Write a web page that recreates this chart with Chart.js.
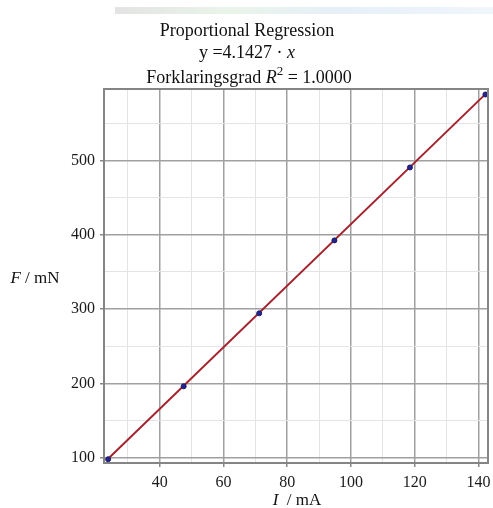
<!DOCTYPE html>
<html>
<head>
<meta charset="utf-8">
<script src="https://cdn.jsdelivr.net/npm/chart.js@4.4.1/dist/chart.umd.min.js"></script>
<style>
  html, body { margin: 0; padding: 0; background: #fff; }
  #wrap { width: 493px; height: 508px; position: relative; }
</style>
</head>
<body>
<div id="wrap"><canvas id="chart" width="493" height="508"></canvas></div>
<script>
// measured points: current I (mA) and force F (mN)
const currentMA = [23.8, 47.5, 71.2, 94.8, 118.5, 142.2];
const forceMN = [98.1, 196.2, 294.3, 392.4, 490.5, 588.6];

// regression line end points
const fitX = [23.8, 142.2];
const fitY = [98.6, 589.1];

const xTickLabels = [40, 60, 80, 100, 120, 140];
const yTickLabels = [100, 200, 300, 400, 500];

const titleLines = ['Proportional Regression', 'y =4.1427 · x', 'Forklaringsgrad R² = 1.0000'];

const serif = '"Liberation Serif", "Times New Roman", serif';

// draws runs of text with their own fonts, centred on cx
function drawRuns(ctx, runs, cx, baseline) {
  let total = 0;
  runs.forEach(r => { ctx.font = r.font; total += ctx.measureText(r.text).width; });
  let x = cx - total / 2;
  runs.forEach(r => {
    ctx.font = r.font;
    ctx.fillText(r.text, x, baseline + (r.dy || 0));
    x += ctx.measureText(r.text).width;
  });
}

const decorations = {
  id: 'decorations',
  beforeDraw(chart) {
    const ctx = chart.ctx;
    ctx.save();
    // faint strip at the top of the screenshot
    const g = ctx.createLinearGradient(115, 0, 493, 0);
    g.addColorStop(0, 'rgba(215,215,215,0.7)');
    g.addColorStop(0.3, 'rgba(225,240,225,0.7)');
    g.addColorStop(0.6, 'rgba(220,232,245,0.7)');
    g.addColorStop(1, 'rgba(235,242,250,0.7)');
    ctx.fillStyle = g;
    ctx.fillRect(115, 7, 378, 7);
    ctx.restore();
  },
  afterDraw(chart) {
    const ctx = chart.ctx;
    const a = chart.chartArea;
    ctx.save();
    ctx.strokeStyle = '#858585';
    ctx.lineWidth = 2;
    ctx.strokeRect(a.left, a.top, a.right - a.left, a.bottom - a.top);

    ctx.fillStyle = '#111';
    ctx.textBaseline = 'alphabetic';
    const f = '18px ' + serif;
    const fi = 'italic 18px ' + serif;
    drawRuns(ctx, [{ text: titleLines[0], font: f }], 247, 36);
    drawRuns(ctx, [{ text: 'y =4.1427 · ', font: f }, { text: 'x', font: fi }], 247, 58);
    drawRuns(ctx, [
      { text: 'Forklaringsgrad ', font: f },
      { text: 'R', font: fi },
      { text: '2', font: '13px ' + serif, dy: -8 },
      { text: ' = 1.0000', font: f }
    ], 249, 83);

    // axis titles
    const fa = '17px ' + serif;
    const fai = 'italic 17px ' + serif;
    drawRuns(ctx, [{ text: 'F', font: fai }, { text: ' / mN', font: fa }], 35, 283);
    drawRuns(ctx, [{ text: 'I', font: fai }, { text: '  / mA', font: fa }], 297, 505);
    ctx.restore();
  }
};

new Chart(document.getElementById('chart'), {
  type: 'scatter',
  data: {
    datasets: [
      {
        label: 'Regression',
        type: 'line',
        data: fitX.map((x, i) => ({ x, y: fitY[i] })),
        borderColor: '#a3232e',
        borderWidth: 2,
        pointRadius: 0,
        fill: false,
        order: 2
      },
      {
        label: 'Målinger',
        data: currentMA.map((x, i) => ({ x, y: forceMN[i] })),
        backgroundColor: '#24248a',
        borderColor: '#1a1a70',
        borderWidth: 1,
        pointRadius: 2.5,
        pointStyle: 'circle',
        order: 1
      }
    ]
  },
  plugins: [decorations],
  options: {
    responsive: false,
    animation: false,
    devicePixelRatio: 1,
    layout: { padding: { left: 0, right: 3, top: 89, bottom: 0 } },
    plugins: {
      legend: { display: false },
      tooltip: { enabled: false },
      title: { display: false }
    },
    scales: {
      x: {
        type: 'linear',
        min: 22.5,
        max: 143,
        afterFit(scale) {
          scale.height = 45;
          scale.paddingLeft = 0;
          scale.paddingRight = 0;
        },
        border: { display: false },
        grid: {
          color: c => (c.tick && xTickLabels.includes(c.tick.value)) ? '#a0a0a0' : '#e4e4e4',
          lineWidth: c => (c.tick && xTickLabels.includes(c.tick.value)) ? 1.5 : 1,
          tickColor: c => (c.tick && xTickLabels.includes(c.tick.value)) ? '#888' : 'rgba(0,0,0,0)',
          tickLength: 4
        },
        ticks: {
          stepSize: 10,
          includeBounds: false,
          autoSkip: false,
          maxRotation: 0,
          padding: 6,
          color: '#1a1a1a',
          font: { family: serif, size: 16 },
          callback: v => xTickLabels.includes(v) ? String(v) : ''
        }
      },
      y: {
        type: 'linear',
        min: 93,
        max: 596,
        afterFit(scale) {
          scale.width = 104;
          scale.paddingTop = 0;
          scale.paddingBottom = 0;
        },
        border: { display: false },
        grid: {
          color: c => (c.tick && yTickLabels.includes(c.tick.value)) ? '#a0a0a0' : '#e4e4e4',
          lineWidth: c => (c.tick && yTickLabels.includes(c.tick.value)) ? 1.5 : 1,
          tickColor: c => (c.tick && yTickLabels.includes(c.tick.value)) ? '#888' : 'rgba(0,0,0,0)',
          tickLength: 4
        },
        ticks: {
          stepSize: 50,
          includeBounds: false,
          autoSkip: false,
          padding: 5,
          color: '#1a1a1a',
          font: { family: serif, size: 16 },
          callback: v => yTickLabels.includes(v) ? String(v) : ''
        }
      }
    }
  }
});
</script>
</body>
</html>
